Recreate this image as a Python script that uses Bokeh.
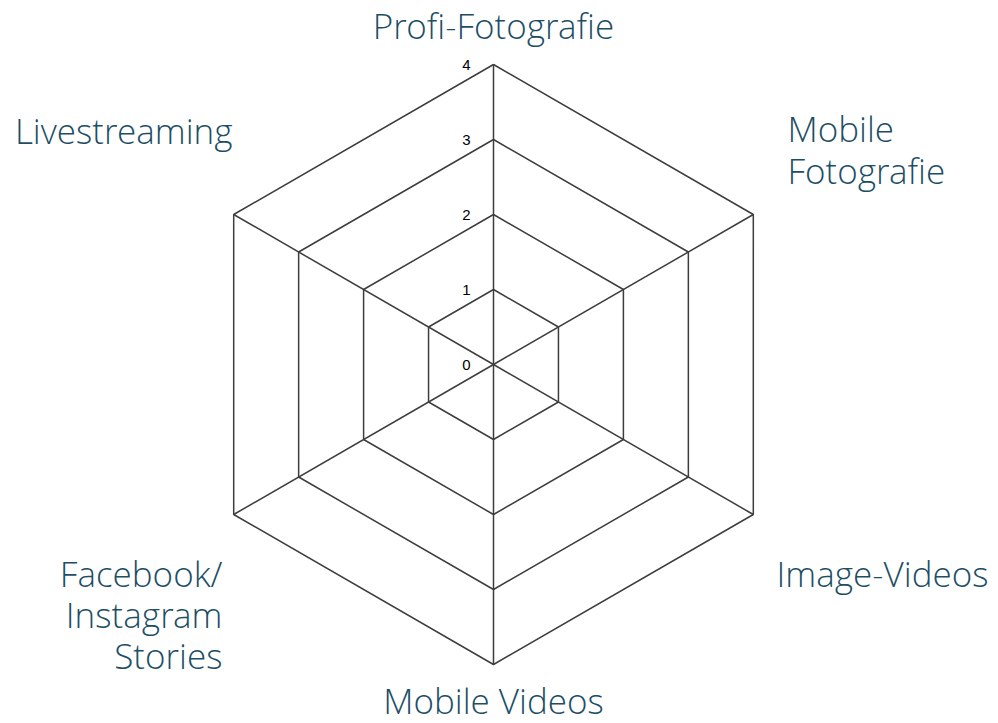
import numpy as np
from bokeh.plotting import figure
from bokeh.core.properties import value
from bokeh.embed import file_html
from bokeh.resources import INLINE

# ---- data ----
categories = ["Profi-Fotografie", "Mobile\nFotografie", "Image-Videos",
              "Mobile Videos", "Facebook/\nInstagram\nStories", "Livestreaming"]
levels = [0, 1, 2, 3, 4]
tick_labels = ["0", "1", "2", "3", "4"]
r_max = 4

# ---- layout / style ----
W, H = 998, 723
scale = 75.0             # pixels per unit of radius
cx_px, cy_px = 493, 364  # centre inside the figure (px from left / top)
grid_color = "#3d3d3d"
text_color = "#1d4e66"
label_font = value("Open Sans Light, Open Sans")

# label placement (pixels relative to centre) and alignment, one per category
lab_dx = [0, 294, 283, 0, -271, -261]
lab_dy = [339, 215, -209, -336, -250, 234]
lab_align = ["center", "left", "left", "center", "right", "right"]

p = figure(width=W, height=H,
           x_range=(-cx_px / scale, (W - cx_px) / scale),
           y_range=(-(H - cy_px) / scale, cy_px / scale),
           output_backend="svg", toolbar_location=None, min_border=0)
p.axis.visible = False
p.grid.visible = False
p.outline_line_color = None
p.background_fill_color = "white"
p.border_fill_color = "white"

n = len(categories)
angles = np.pi / 2 - np.arange(n) * 2 * np.pi / n

# rings
ring_xs, ring_ys = [], []
for lv in levels[1:]:
    xs = list(lv * np.cos(angles)) + [lv * np.cos(angles[0])]
    ys = list(lv * np.sin(angles)) + [lv * np.sin(angles[0])]
    ring_xs.append(xs)
    ring_ys.append(ys)
p.multi_line(ring_xs, ring_ys, line_color=grid_color, line_width=1.5)

# spokes
sp_xs = [[0, r_max * np.cos(a)] for a in angles]
sp_ys = [[0, r_max * np.sin(a)] for a in angles]
p.multi_line(sp_xs, sp_ys, line_color=grid_color, line_width=1.5)

# tick labels
p.text(x=[-27 / scale] * len(levels), y=levels, text=tick_labels,
       text_font=value("Liberation Sans"), text_font_size="15px",
       text_color="black", text_align="center", text_baseline="middle")

# category labels
for c, dx, dy, al in zip(categories, lab_dx, lab_dy, lab_align):
    p.text(x=[dx / scale], y=[dy / scale], text=[c],
           text_font=label_font, text_font_size="35px",
           text_color=text_color, text_align=al, text_baseline="middle",
           text_line_height=0.88)

open("out.html", "w").write(file_html(p, INLINE))
